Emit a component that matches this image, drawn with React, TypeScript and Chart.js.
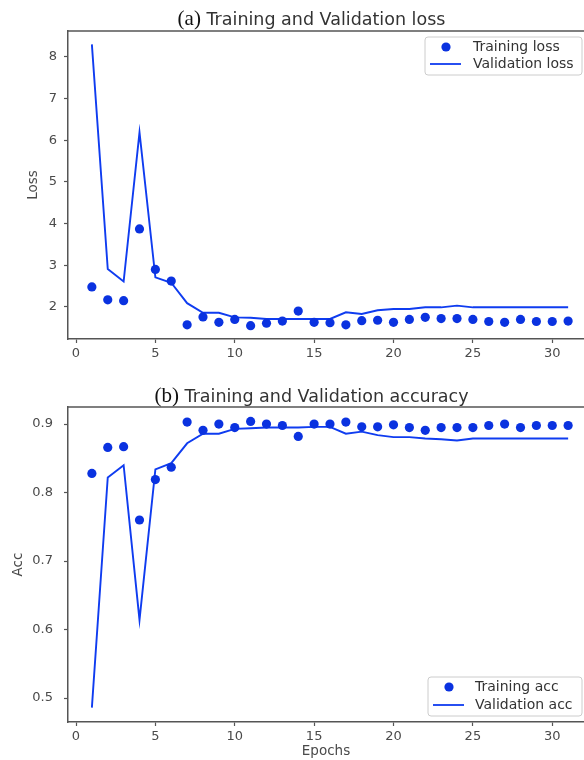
import React, { useEffect, useRef } from "react";
import { Chart, registerables } from "chart.js";

Chart.register(...registerables);

// ---------- data ----------
const epochs = [1, 2, 3, 4, 5, 6, 7, 8, 9, 10, 11, 12, 13, 14, 15, 16, 17, 18, 19, 20, 21, 22, 23, 24, 25, 26, 27, 28, 29, 30, 31];

const trainingLoss = [2.48, 2.17, 2.15, 3.87, 2.9, 2.62, 1.57, 1.76, 1.63, 1.7, 1.55, 1.61, 1.66, 1.9, 1.63, 1.62, 1.57, 1.67, 1.68, 1.63, 1.7, 1.75, 1.72, 1.72, 1.7, 1.65, 1.63, 1.7, 1.65, 1.65, 1.66];
const validationLoss = [8.3, 2.91, 2.61, 6.19, 2.71, 2.58, 2.09, 1.86, 1.86, 1.75, 1.74, 1.71, 1.71, 1.71, 1.71, 1.71, 1.87, 1.83, 1.92, 1.95, 1.95, 1.99, 1.99, 2.03, 1.99, 1.99, 1.99, 1.99, 1.99, 1.99, 1.99];

const trainingAcc = [0.828, 0.866, 0.867, 0.76, 0.819, 0.837, 0.903, 0.891, 0.9, 0.895, 0.904, 0.9, 0.898, 0.882, 0.9, 0.9, 0.903, 0.896, 0.896, 0.899, 0.895, 0.891, 0.895, 0.895, 0.895, 0.898, 0.9, 0.895, 0.898, 0.898, 0.898];
const validationAcc = [0.486, 0.822, 0.84, 0.614, 0.834, 0.843, 0.872, 0.886, 0.886, 0.893, 0.894, 0.895, 0.895, 0.895, 0.896, 0.896, 0.886, 0.889, 0.884, 0.881, 0.881, 0.879, 0.878, 0.876, 0.879, 0.879, 0.879, 0.879, 0.879, 0.879, 0.879];

const xTicks = [0, 5, 10, 15, 20, 25, 30];
const lossTicks = [2, 3, 4, 5, 6, 7, 8];
const accTicks = [0.5, 0.6, 0.7, 0.8, 0.9];

const lossLabels = ["Training loss", "Validation loss"];
const accLabels = ["Training acc", "Validation acc"];

// ---------- style ----------
const DOT = "#0a32e0";
const LINE = "#0f3cf0";
const SPINE = "#555555";
const TICK_TEXT = "#4a4a4a";
const TEXT = "#333333";
const SANS = "'DejaVu Sans', sans-serif";
const SERIF = "'Liberation Serif', 'DejaVu Serif', serif";

const W = 584;
const H = 380;

const panelPlugin = {
  id: "panel",
  afterDraw(chart: any, _args: any, opts: any) {
    const ctx = chart.ctx as CanvasRenderingContext2D;
    const { left, right, top } = chart.chartArea;
    ctx.save();
    // top spine
    ctx.strokeStyle = SPINE;
    ctx.lineWidth = 1.5;
    ctx.beginPath();
    ctx.moveTo(left - 0.75, top);
    ctx.lineTo(right, top);
    ctx.stroke();

    // title: serif prefix + sans text
    ctx.textBaseline = "alphabetic";
    ctx.textAlign = "left";
    ctx.font = `21px ${SERIF}`;
    const pw = ctx.measureText(opts.prefix).width;
    ctx.font = `17.5px ${SANS}`;
    const tw = ctx.measureText(" " + opts.title).width;
    const x0 = opts.titleCenter - (pw + tw) / 2;
    ctx.fillStyle = "#111111";
    ctx.font = `21px ${SERIF}`;
    ctx.fillText(opts.prefix, x0, opts.titleBaseline);
    ctx.fillStyle = TEXT;
    ctx.font = `17.5px ${SANS}`;
    ctx.fillText(" " + opts.title, x0 + pw, opts.titleBaseline);

    // legend
    const b = opts.legendBox;
    ctx.fillStyle = "rgba(255,255,255,0.85)";
    ctx.strokeStyle = "#cccccc";
    ctx.lineWidth = 1;
    ctx.beginPath();
    const r = 3;
    ctx.moveTo(b.x + r, b.y);
    ctx.lineTo(b.x + b.w - r, b.y);
    ctx.arcTo(b.x + b.w, b.y, b.x + b.w, b.y + r, r);
    ctx.lineTo(b.x + b.w, b.y + b.h - r);
    ctx.arcTo(b.x + b.w, b.y + b.h, b.x + b.w - r, b.y + b.h, r);
    ctx.lineTo(b.x + r, b.y + b.h);
    ctx.arcTo(b.x, b.y + b.h, b.x, b.y + b.h - r, r);
    ctx.lineTo(b.x, b.y + r);
    ctx.arcTo(b.x, b.y, b.x + r, b.y, r);
    ctx.closePath();
    ctx.fill();
    ctx.stroke();

    const labels: string[] = opts.labels;
    ctx.fillStyle = DOT;
    ctx.beginPath();
    ctx.arc(b.markerX, b.row1, 4.6, 0, Math.PI * 2);
    ctx.fill();
    ctx.strokeStyle = LINE;
    ctx.lineWidth = 1.8;
    ctx.beginPath();
    ctx.moveTo(b.markerX - 16, b.row2);
    ctx.lineTo(b.markerX + 15, b.row2);
    ctx.stroke();

    ctx.fillStyle = TEXT;
    ctx.font = `14px ${SANS}`;
    ctx.textBaseline = "middle";
    ctx.fillText(labels[0], b.textX, b.row1);
    ctx.fillText(labels[1], b.textX, b.row2);
    ctx.restore();
  },
};

function makeConfig(p: {
  train: number[];
  valid: number[];
  labels: string[];
  yTicks: number[];
  yMin: number;
  yMax: number;
  yTitle: string;
  yTitlePad: number;
  yTickPad: number;
  xTitle: string;
  padTop: number;
  xHeight: number;
  prefix: string;
  title: string;
  titleBaseline: number;
  legendBox: any;
  fmt: (v: number) => string;
}): any {
  return {
    type: "line",
    data: {
      datasets: [
        {
          label: p.labels[0],
          data: epochs.map((e, i) => ({ x: e, y: p.train[i] })),
          showLine: false,
          pointRadius: 4.6,
          pointHoverRadius: 4.6,
          pointBackgroundColor: DOT,
          pointBorderColor: DOT,
          pointBorderWidth: 0,
          borderColor: DOT,
          backgroundColor: DOT,
        },
        {
          label: p.labels[1],
          data: epochs.map((e, i) => ({ x: e, y: p.valid[i] })),
          borderColor: LINE,
          backgroundColor: LINE,
          borderWidth: 1.9,
          pointRadius: 0,
          tension: 0,
          fill: false,
        },
      ],
    },
    options: {
      responsive: false,
      animation: false,
      devicePixelRatio: 1,
      layout: { autoPadding: false, padding: { top: p.padTop, left: 0, right: 0, bottom: 0 } },
      plugins: {
        legend: { display: false },
        title: { display: false },
        tooltip: { enabled: false },
        panel: {
          prefix: p.prefix,
          title: p.title,
          titleCenter: 311.5,
          titleBaseline: p.titleBaseline,
          legendBox: p.legendBox,
          labels: p.labels,
        },
      },
      scales: {
        x: {
          type: "linear",
          min: -0.504,
          max: 32.0,
          afterBuildTicks: (s: any) => {
            s.ticks = xTicks.map((v) => ({ value: v }));
          },
          afterFit: (s: any) => {
            s.height = p.xHeight;
            s.paddingLeft = 0;
            s.paddingRight = 0;
          },
          border: { display: true, color: SPINE, width: 1.5 },
          grid: { display: true, drawOnChartArea: false, drawTicks: true, tickLength: 4, tickColor: SPINE, tickWidth: 1.2 },
          ticks: {
            color: TICK_TEXT,
            font: { family: SANS, size: 13 },
            padding: 3,
            maxRotation: 0,
            autoSkip: false,
            callback: (v: number) => String(v),
          },
          title: p.xTitle
            ? { display: true, text: p.xTitle, color: TICK_TEXT, font: { family: SANS, size: 13.5 }, padding: { top: 0, bottom: 0 } }
            : { display: false },
        },
        y: {
          type: "linear",
          min: p.yMin,
          max: p.yMax,
          afterBuildTicks: (s: any) => {
            s.ticks = p.yTicks.map((v) => ({ value: v }));
          },
          afterFit: (s: any) => {
            s.width = 68;
            s.paddingTop = 0;
            s.paddingBottom = 0;
          },
          border: { display: true, color: SPINE, width: 1.5 },
          grid: { display: true, drawOnChartArea: false, drawTicks: true, tickLength: 4, tickColor: SPINE, tickWidth: 1.2 },
          ticks: {
            color: TICK_TEXT,
            font: { family: SANS, size: 13 },
            padding: p.yTickPad,
            autoSkip: false,
            callback: (v: number) => p.fmt(v),
          },
          title: {
            display: true,
            text: p.yTitle,
            color: TICK_TEXT,
            font: { family: SANS, size: 13.5 },
            padding: { top: p.yTitlePad, bottom: 0 },
          },
        },
      },
    },
    plugins: [panelPlugin],
  };
}

function Panel({ config, top }: { config: any; top: number }) {
  const ref = useRef<HTMLCanvasElement | null>(null);
  useEffect(() => {
    if (!ref.current) return;
    const chart = new Chart(ref.current, config);
    return () => chart.destroy();
  }, [config]);
  return (
    <canvas
      ref={ref}
      width={W}
      height={H}
      style={{ position: "absolute", left: 0, top, width: W, height: H, display: "block" }}
    />
  );
}

const lossConfig = makeConfig({
  train: trainingLoss,
  valid: validationLoss,
  labels: lossLabels,
  yTicks: lossTicks,
  yMin: 1.23,
  yMax: 8.62,
  yTitle: "Loss",
  yTitlePad: 25,
  yTickPad: 7,
  xTitle: "",
  padTop: 31,
  xHeight: 41,
  prefix: "(a)",
  title: "Training and Validation loss",
  titleBaseline: 25,
  legendBox: { x: 425, y: 37, w: 157, h: 38, markerX: 446, textX: 473, row1: 47, row2: 64 },
  fmt: (v) => String(v),
});

const accConfig = makeConfig({
  train: trainingAcc,
  valid: validationAcc,
  labels: accLabels,
  yTicks: accTicks,
  yMin: 0.465,
  yMax: 0.925,
  yTitle: "Acc",
  yTitlePad: 10,
  yTickPad: 11,
  xTitle: "Epochs",
  padTop: 27,
  xHeight: 38,
  prefix: "(b)",
  title: "Training and Validation accuracy",
  titleBaseline: 22,
  legendBox: { x: 428, y: 297, w: 154, h: 39, markerX: 449, textX: 475, row1: 307, row2: 325 },
  fmt: (v) => v.toFixed(1),
});

export default function App() {
  return (
    <div style={{ position: "absolute", left: 0, top: 0, width: W, height: 760, background: "#ffffff", overflow: "hidden" }}>
      <Panel config={lossConfig} top={0} />
      <Panel config={accConfig} top={380} />
    </div>
  );
}
